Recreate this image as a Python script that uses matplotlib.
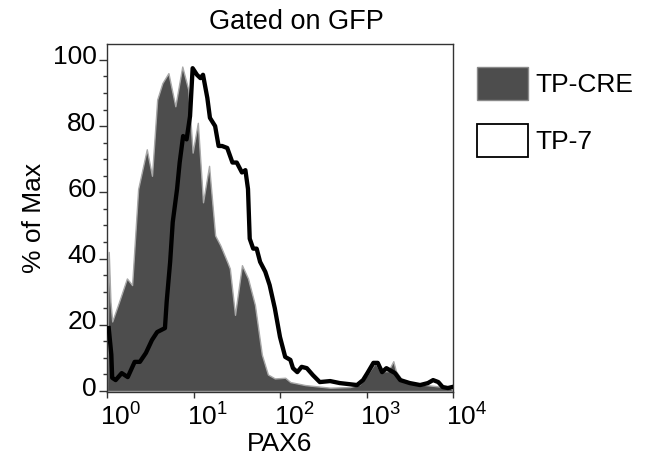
import numpy as np
import matplotlib
matplotlib.use("Agg")
import matplotlib.pyplot as plt
import matplotlib.transforms as mtransforms
from matplotlib.patches import Patch

plt.rcParams["font.family"] = ["Liberation Sans", "DejaVu Sans"]
plt.rcParams["mathtext.fontset"] = "custom"
plt.rcParams["mathtext.rm"] = "Liberation Sans"
plt.rcParams["mathtext.it"] = "Liberation Sans:italic"
plt.rcParams["mathtext.bf"] = "Liberation Sans:bold"

# TP-CRE (filled histogram), x = log10(PAX6), y = % of max
cre_log = [0.0, 0.02, 0.04, 0.06, 0.14, 0.23, 0.29, 0.36, 0.46, 0.52, 0.58,
           0.64, 0.71, 0.79, 0.87, 0.94, 0.99, 1.05, 1.11, 1.18, 1.25, 1.31,
           1.39, 1.42, 1.48, 1.56, 1.63, 1.71, 1.79, 1.86, 1.94, 2.06, 2.12,
           2.29, 2.58, 2.81, 2.92, 3.01, 3.10, 3.16, 3.25, 3.31, 3.34, 3.42,
           3.62, 3.97, 4.0]
cre_pct = [0, 42, 27, 21, 27, 34, 32, 61, 73, 65, 88,
           93, 96, 86, 98, 91, 72, 81, 57, 68, 47, 44,
           39, 37, 23, 38, 34, 26, 11, 5, 3.8, 4, 2.7,
           1.8, 1.0, 1.2, 2, 5, 8.5, 6, 6, 9, 6, 3,
           2, 1, 0]

# TP-7 (open histogram)
tp7_log = [0.02, 0.05, 0.06, 0.10, 0.17, 0.24, 0.32, 0.38, 0.45, 0.52, 0.58,
           0.67, 0.69, 0.73, 0.76, 0.81, 0.84, 0.88, 0.92, 0.96, 0.99, 1.04,
           1.08, 1.11, 1.16, 1.19, 1.25, 1.29, 1.33, 1.39, 1.45, 1.50, 1.56,
           1.60, 1.63, 1.65, 1.69, 1.73, 1.77, 1.83, 1.88, 1.94, 2.00, 2.06,
           2.12, 2.15, 2.20, 2.25, 2.31, 2.38, 2.46, 2.58, 2.69, 2.89, 2.96,
           3.01, 3.08, 3.13, 3.18, 3.23, 3.27, 3.33, 3.39, 3.50, 3.62, 3.71,
           3.77, 3.83, 3.88, 3.94, 3.99]
tp7_pct = [19, 11, 4, 3.3, 5.4, 4.2, 8.8, 8.8, 11.5, 15.4, 17.8,
           19, 27, 39, 51, 61, 69, 77, 76, 83, 97.5, 95.5,
           94.5, 95.5, 88.5, 82.5, 80, 74, 74, 73.4, 69, 69, 66,
           66.7, 61, 46, 43, 43, 39, 36, 32, 25, 16.3, 10.3,
           9.4, 6.9, 5.7, 7.3, 6.9, 4.8, 2.7, 3, 2.4, 1.8, 3.3,
           5.4, 8.5, 8.5, 5.7, 6.9, 6.3, 5.4, 3.3, 2.4, 1.8, 2.4,
           3.3, 2.7, 1.2, 0.9, 1.2]

y_ticks = [0, 20, 40, 60, 80, 100]
x_ticks = [1, 10, 100, 1000, 10000]
x_ticklabels = ["$10^{0}$", "$10^{1}$", "$10^{2}$", "$10^{3}$", "$10^{4}$"]

fill_color = "#4d4d4d"
W, H = 646, 465
fig = plt.figure(figsize=(W / 100, H / 100), dpi=100)
ax = fig.add_axes([107 / W, 1 - 392 / H, (453 - 107) / W, (392 - 44) / H])

ax.fill_between(10 ** np.array(cre_log), cre_pct, 0, facecolor=fill_color,
                edgecolor="#a8a8a8", linewidth=1.0, zorder=2)
ax.plot(10 ** np.array(tp7_log), tp7_pct, color="black", linewidth=3.1,
        solid_joinstyle="round", zorder=3)

ax.set_xscale("log")
ax.set_xlim(1, 1e4)
ax.set_ylim(-0.3, 104.8)
ax.set_xticks(x_ticks)
ax.set_xticklabels(x_ticklabels)
ax.set_yticks(y_ticks)
ax.set_yticks(np.arange(0, 105, 5), minor=True)

for s in ax.spines.values():
    s.set_color("#333333")
    s.set_linewidth(1.0)

ax.tick_params(axis="y", which="major", length=6, width=1, color="#333333",
               labelsize=19, pad=1.5)
ax.tick_params(axis="y", which="minor", length=3, width=1, color="#333333")
ax.tick_params(axis="x", which="major", length=4, width=1, color="#333333",
               labelsize=19, pad=4)
ax.tick_params(axis="x", which="minor", length=2.5, width=1, color="#333333")

# shift x tick labels right like the original
offset = mtransforms.ScaledTranslation(0.14, 0, fig.dpi_scale_trans)
for lbl in ax.get_xticklabels():
    lbl.set_transform(lbl.get_transform() + offset)
# y labels sit slightly above their ticks
offy = mtransforms.ScaledTranslation(0, 0.05, fig.dpi_scale_trans)
for lbl in ax.get_yticklabels():
    lbl.set_transform(lbl.get_transform() + offy)

ax.set_xlabel("PAX6", fontsize=19, labelpad=1)
ax.set_ylabel("% of Max", fontsize=19, labelpad=5)
fig.text(296 / W, 1 - 22 / H, "Gated on GFP", fontsize=19.5, ha="center", va="center")

handles = [Patch(facecolor=fill_color, edgecolor="#8a8a8a", linewidth=1.0, label="TP-CRE"),
           Patch(facecolor="white", edgecolor="black", linewidth=1.3, label="TP-7")]
ax.legend(handles=handles, loc="upper left", bbox_to_anchor=(477 / W, 1 - 67 / H),
          bbox_transform=fig.transFigure, frameon=False, borderpad=0,
          borderaxespad=0, handlelength=1.93, handleheight=1.55,
          handletextpad=0.27, labelspacing=0.9, fontsize=19)

fig.savefig("out.png", dpi=100)
